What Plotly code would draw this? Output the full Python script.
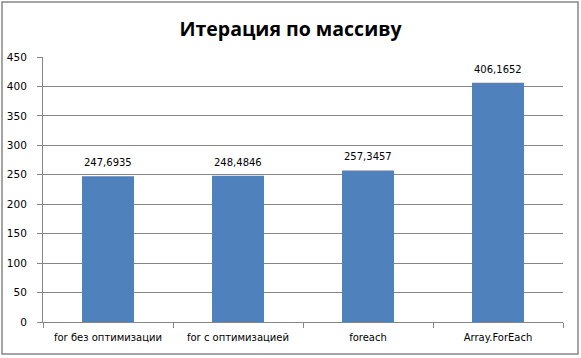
import plotly.graph_objects as go

categories = ["for без оптимизации", "for с оптимизацией", "foreach", "Array.ForEach"]
values = [247.6935, 248.4846, 257.3457, 406.1652]
y_ticks = [0, 50, 100, 150, 200, 250, 300, 350, 400, 450]
title_text = "Итерация по массиву"

labels = [f"{v:.4f}".replace(".", ",") for v in values]

W, H = 581, 358
L, R, T, B = 43, 18, 57, 36
fig = go.Figure()
fig.add_trace(go.Bar(
    x=categories, y=values,
    marker=dict(color="#4F81BD", line=dict(width=0)),
    width=0.4,
    hoverinfo="skip",
))

for c, v, t in zip(categories, values, labels):
    fig.add_annotation(x=c, y=v, text=t, showarrow=False, yanchor="bottom",
                       yshift=6, font=dict(family="DejaVu Sans", size=10, color="#000"))

pw, ph = W - L - R, H - T - B
fig.update_layout(
    width=W, height=H,
    margin=dict(l=L, r=R, t=T, b=B, pad=0, autoexpand=False),
    paper_bgcolor="white", plot_bgcolor="white",
    showlegend=False,
    title=dict(text=title_text, x=0.5, xref="container", xanchor="center",
               y=1 - 29 / H, yref="container", yanchor="middle",
               font=dict(family="Open Sans", size=19.5, color="#000", weight="bold")),
    xaxis=dict(
        type="category", showgrid=False, showline=True, linecolor="#868686", linewidth=1,
        ticks="outside", tickson="boundaries", ticklen=5, tickcolor="#868686",
        tickfont=dict(family="DejaVu Sans", size=10, color="#000"),
        ticklabelstandoff=6,
        range=[-0.5, 3.5], automargin=False,
    ),
    yaxis=dict(
        range=[0, 450], tickvals=y_ticks, showgrid=True, gridcolor="#868686", gridwidth=1,
        showline=True, linecolor="#868686", linewidth=1, zeroline=False,
        ticks="outside", ticklen=5, tickcolor="#868686",
        tickfont=dict(family="DejaVu Sans", size=10.5, color="#000"),
        ticklabelstandoff=8,
        automargin=False,
    ),
    shapes=[dict(type="rect", xref="paper", yref="paper",
                 x0=(2 - L) / pw, x1=(578 - L) / pw,
                 y0=(H - B - 354) / ph, y1=(H - B - 2) / ph,
                 line=dict(color="#868686", width=1.5), layer="below")],
)

fig.write_html("out.html", config={"displayModeBar": False},
               post_script="document.body.style.margin='0';document.body.style.overflow='hidden';")
